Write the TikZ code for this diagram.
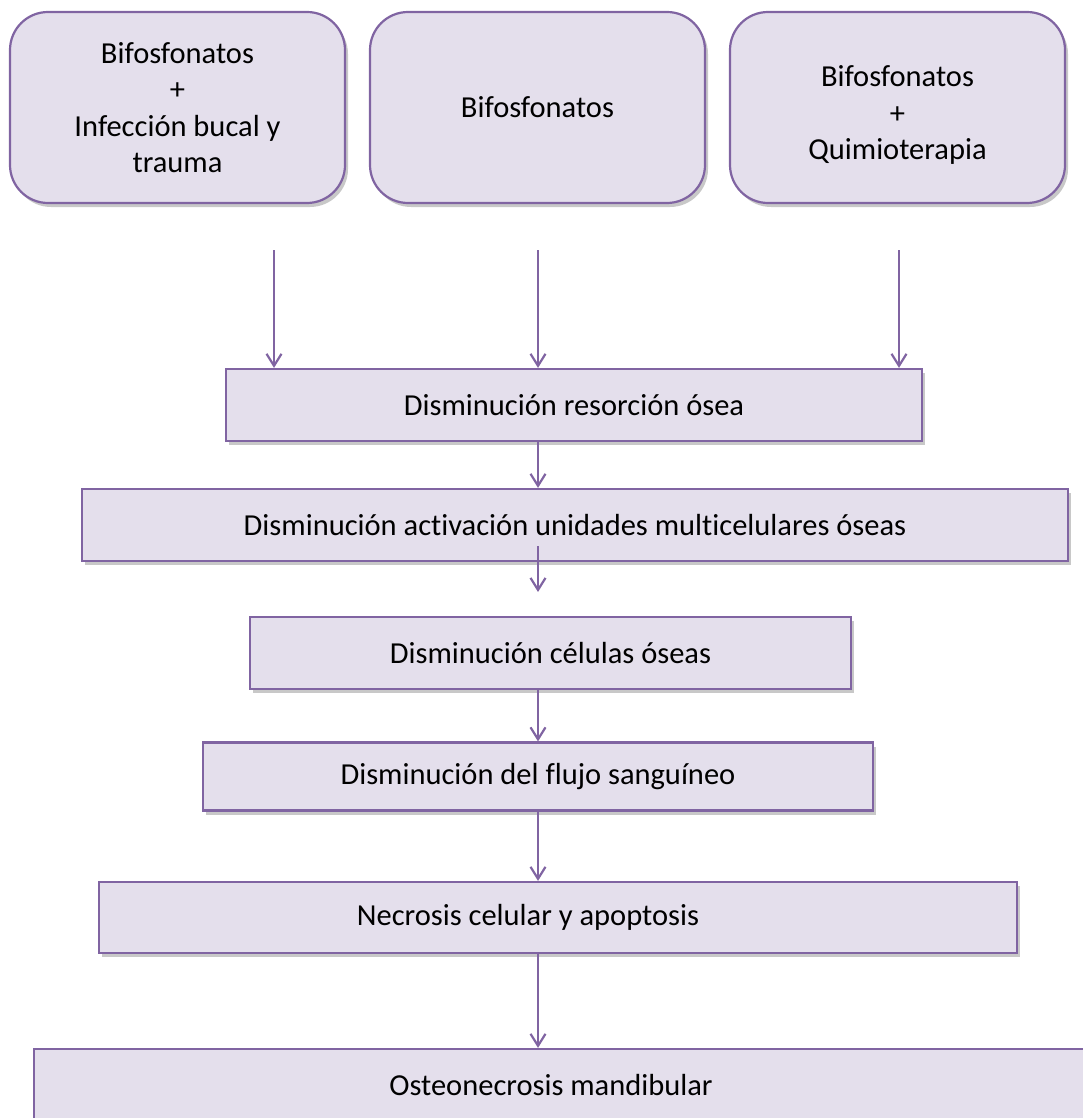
\documentclass[tikz,border=0pt]{standalone}
\usepackage{fontspec}
\setmainfont{Carlito}[Ligatures=NoCommon]
\usetikzlibrary{arrows.meta,shadows}
\definecolor{bord}{HTML}{8064A2}
\definecolor{boxfill}{HTML}{E4DFEC}
\definecolor{shad}{HTML}{C8C8C8}
\begin{document}
\begin{tikzpicture}[x=1pt,y=-1pt,
  boxbase/.style={draw=bord, fill=boxfill, line width=2.2pt, inner sep=0pt, align=center,
    font=\fontsize{30.5}{36.5}\selectfont,
    drop shadow={shadow xshift=3pt, shadow yshift=-4pt, fill=shad, opacity=1}},
  topbox/.style={boxbase, rounded corners=38pt, minimum width=335pt, minimum height=191pt},
  flowbox/.style={boxbase, minimum height=72pt},
  arr/.style={draw=bord, line width=2.2pt, -{Straight Barb[length=12pt,width=15pt]}},
  lbl/.style={inner sep=0pt, font=\fontsize{30.5}{36.5}\selectfont}
]
\useasboundingbox (0,0) rectangle (1083,1118);
\clip (0,0) rectangle (1083,1118);

\node[topbox] (t1) at (177.5,107.5) {Bifosfonatos\\+\\Infección bucal y\\trauma};
\node[topbox] (t2) at (537.5,107.5) {Bifosfonatos};
\node[topbox] (t3) at (897.5,107.5) {\rule{0pt}{36pt}Bifosfonatos\\+\\Quimioterapia};

\node[flowbox, minimum width=696pt] (r1) at (574,405) {Disminución resorción ósea};
\node[flowbox, minimum width=986pt] (r2) at (575,525) {Disminución activación unidades multicelulares óseas};
\node[flowbox, minimum width=601pt] (r3) at (550.5,653) {Disminución células óseas};
\node[flowbox, minimum width=670pt, minimum height=68pt] (r4) at (538,776.5) {Disminución del flujo sanguíneo};
\node[flowbox, minimum width=918pt, minimum height=71pt] (r5) at (558,917.5) {\hspace*{-60pt}Necrosis celular y apoptosis};
\node[flowbox, minimum width=1090pt] (r6) at (579,1085) {};
\node[lbl] (r6t) at (551,1085) {Osteonecrosis mandibular};

\coordinate (s1) at (274,250);
\coordinate (s2) at (538,250);
\coordinate (s3) at (899,250);
\coordinate (ax) at (538,0);
\coordinate (m2s) at (538,546);
\coordinate (m2e) at (538,592);

\draw[arr] (s1) -- (s1 |- r1.north);
\draw[arr] (s2) -- (s2 |- r1.north);
\draw[arr] (s3) -- (s3 |- r1.north);
\draw[arr] (r1.south -| ax) -- (r2.north -| ax);
\draw[arr] (m2s) -- (m2e);
\draw[arr] (r3.south -| ax) -- (r4.north -| ax);
\draw[arr] (r4.south -| ax) -- (r5.north -| ax);
\draw[arr] (r5.south -| ax) -- (r6.north -| ax);
\end{tikzpicture}
\end{document}
